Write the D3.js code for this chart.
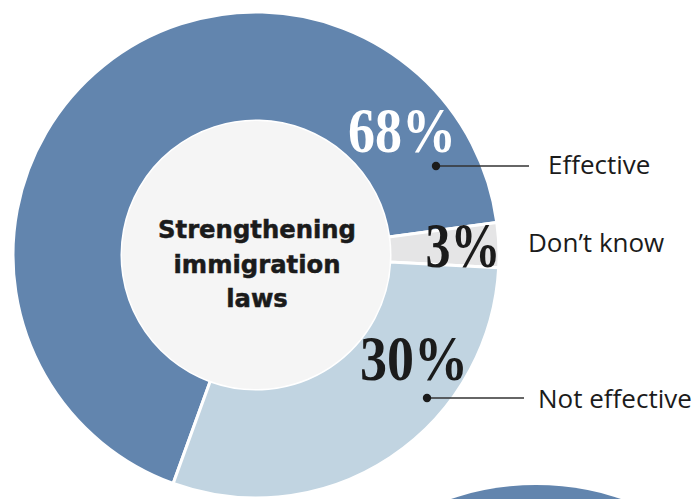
<!DOCTYPE html>
<html>
<head>
<meta charset="utf-8">
<script src="https://cdn.jsdelivr.net/npm/d3@7"></script>
<style>
  html, body { margin: 0; padding: 0; background: #ffffff; }
  svg { display: block; }
</style>
</head>
<body>
<div id="chart"></div>
<script>
// Survey result: how effective would strengthening immigration laws be
const categories = ["Effective", "Don\u2019t know", "Not effective"];
const values = [68, 3, 30];
const valueLabels = ["68%", "3%", "30%"];
const titleLines = ["Strengthening", "immigration", "laws"];
const sliceColors = ["#6285ae", "#e5e5e6", "#c1d4e1"];

const width = 699, height = 499;
const cx = 256, cy = 255;
const outerR = 243, innerR = 134;

const svg = d3.select("#chart").append("svg")
  .attr("width", width)
  .attr("height", height);

svg.append("rect").attr("width", width).attr("height", height).attr("fill", "#ffffff");

// Edge of the next ring in the series, peeking in at the bottom right
const nextRing = svg.append("g").attr("transform", "translate(536,750)");
nextRing.append("path")
  .attr("d", d3.arc()({innerRadius: 0, outerRadius: 265, startAngle: 0, endAngle: 2 * Math.PI}))
  .attr("fill", sliceColors[0]);

const g = svg.append("g").attr("transform", `translate(${cx},${cy})`);

// The "Don't know" wedge sits just below 3 o'clock
const total = d3.sum(values);
const dkCenter = 87.65 * Math.PI / 180;
const startAngle = dkCenter - (values[0] + values[1] / 2) / total * 2 * Math.PI;

const pie = d3.pie().sort(null).value(d => d)
  .startAngle(startAngle)
  .endAngle(startAngle + 2 * Math.PI);

const arc = d3.arc().innerRadius(innerR).outerRadius(outerR);

const arcs = pie(values);

g.selectAll("path.slice")
  .data(arcs)
  .join("path")
  .attr("class", "slice")
  .attr("d", arc)
  .attr("fill", (d, i) => sliceColors[i])
  .attr("stroke", "#ffffff")
  .attr("stroke-width", 3)
  .attr("stroke-linejoin", "miter");

// Centre disc with the question
g.append("circle").attr("r", innerR).attr("fill", "#f5f5f5");

g.append("text")
  .attr("text-anchor", "middle")
  .attr("font-family", "DejaVu Sans")
  .attr("font-weight", "bold")
  .attr("font-size", 24.3)
  .attr("fill", "#1b1b1b")
  .attr("stroke", "#1b1b1b")
  .attr("stroke-width", 0.5)
  .selectAll("tspan")
  .data(titleLines)
  .join("tspan")
  .attr("x", 1)
  .attr("y", (d, i) => -17 + i * 34.5)
  .text(d => d);

// Big percentage figures
const pctLayout = [
  {x: 146, y: -103, w: 108, fill: "#ffffff"},
  {x: 207, y: 12, w: 75, fill: "#1b1b1b"},
  {x: 158, y: 125, w: 108, fill: "#1b1b1b"}
];

g.selectAll("text.pct")
  .data(arcs)
  .join("text")
  .attr("class", "pct")
  .attr("x", (d, i) => pctLayout[i].x)
  .attr("y", (d, i) => pctLayout[i].y)
  .attr("text-anchor", "middle")
  .attr("font-family", "Liberation Serif")
  .attr("font-weight", "bold")
  .attr("font-size", 64)
  .attr("textLength", (d, i) => pctLayout[i].w)
  .attr("lengthAdjust", "spacingAndGlyphs")
  .attr("fill", (d, i) => pctLayout[i].fill)
  .text((d, i) => valueLabels[i]);

// Category labels, with leader lines where the label sits away from the ring
const legendLayout = [
  {dot: [180, -89], lineEnd: 273, tx: 292, ty: -81},
  {dot: null, lineEnd: null, tx: 272, ty: -3},
  {dot: [171, 143], lineEnd: 268, tx: 282, ty: 153}
];

categories.forEach((name, i) => {
  const L = legendLayout[i];
  if (L.dot) {
    g.append("line")
      .attr("x1", L.dot[0]).attr("y1", L.dot[1])
      .attr("x2", L.lineEnd).attr("y2", L.dot[1])
      .attr("stroke", "#333333")
      .attr("stroke-width", 1.5);
    g.append("circle")
      .attr("cx", L.dot[0]).attr("cy", L.dot[1])
      .attr("r", 4.2)
      .attr("fill", "#1b1b1b");
  }
  g.append("text")
    .attr("x", L.tx)
    .attr("y", L.ty)
    .attr("font-family", "Open Sans")
    .attr("font-size", 26)
    .attr("fill", "#1b1b1b")
    .text(name);
});
</script>
</body>
</html>
